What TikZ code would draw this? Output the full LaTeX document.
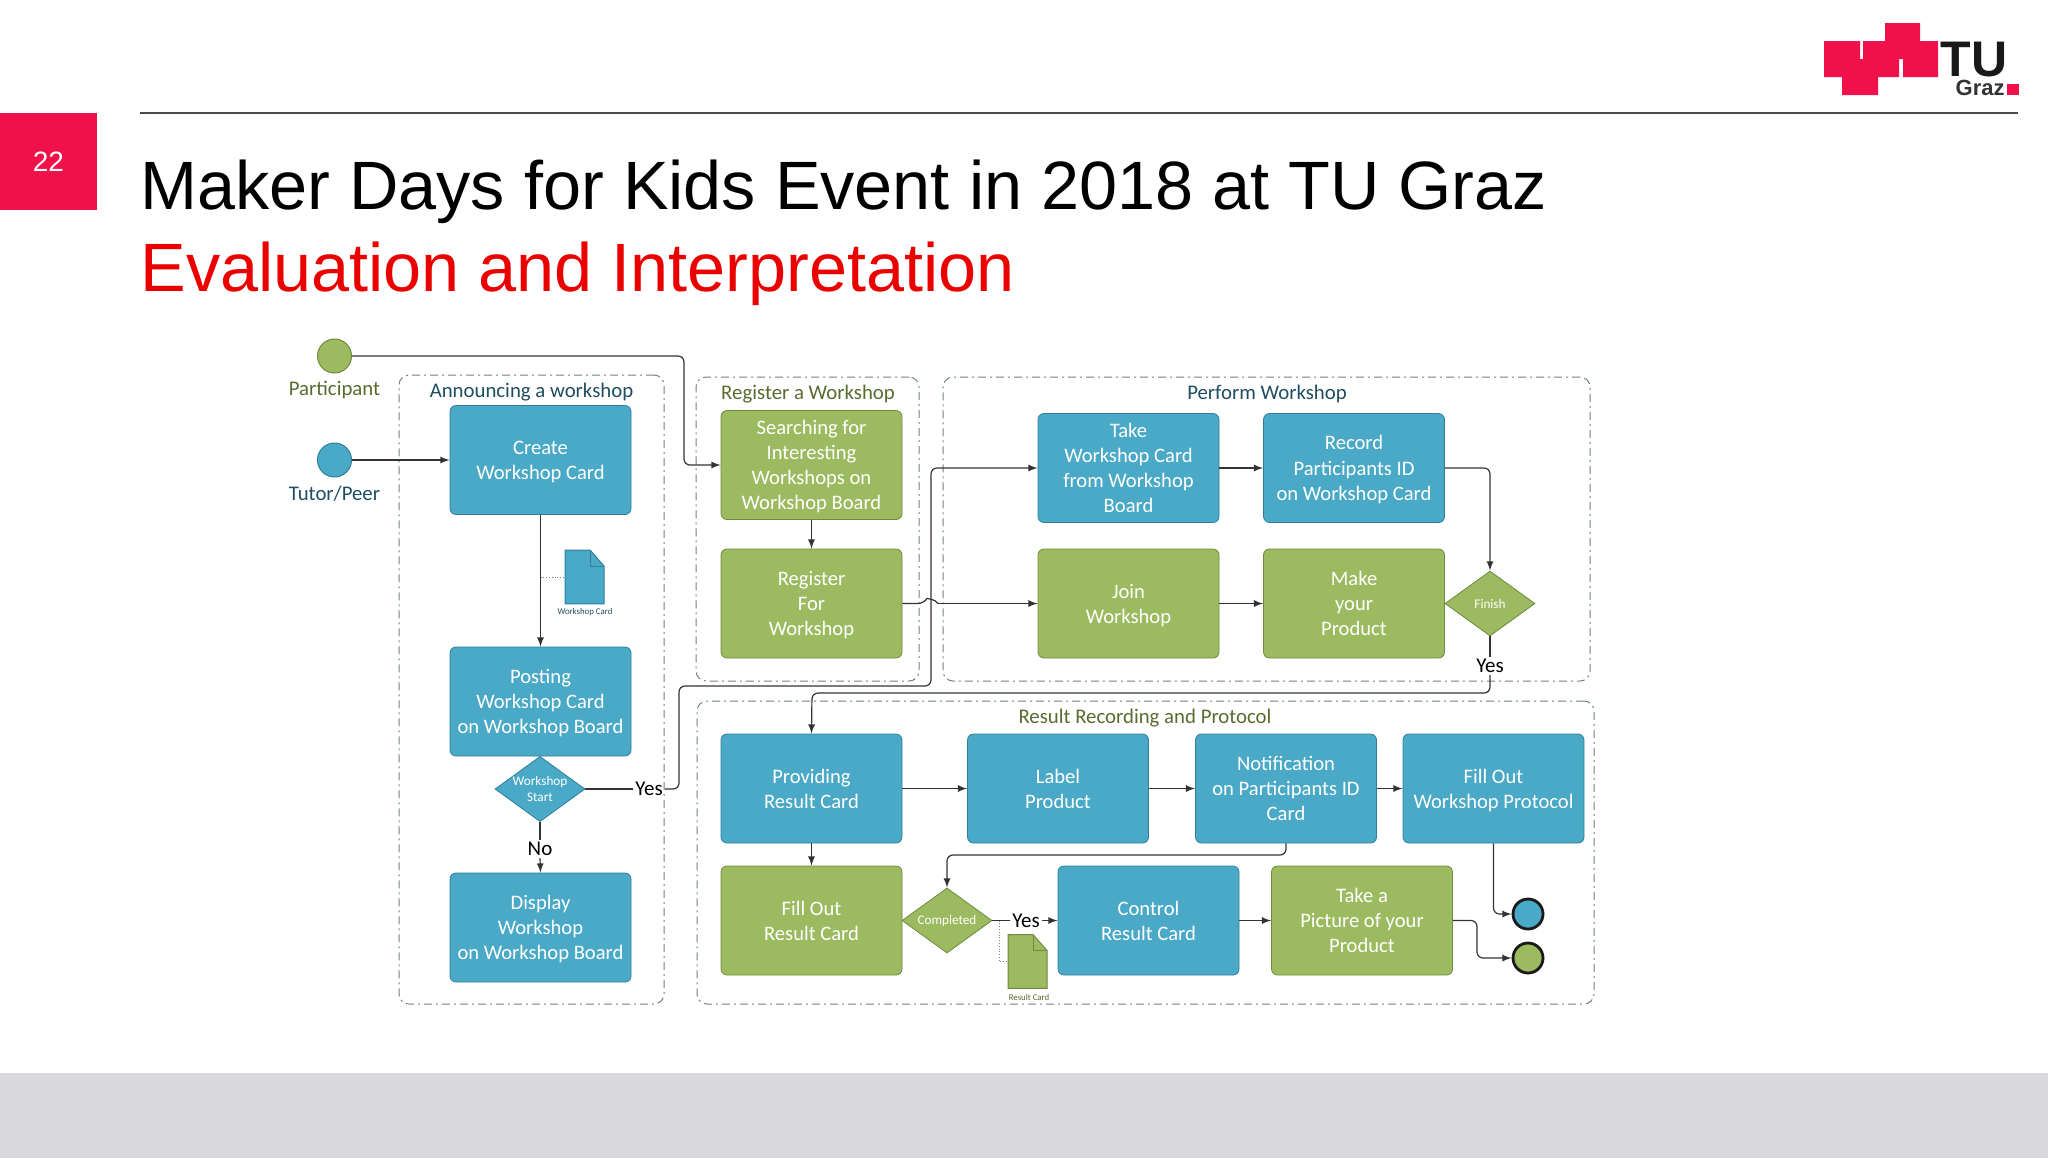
\documentclass[tikz,border=0pt]{standalone}
\usepackage{fontspec}
\setmainfont{Carlito}
\newfontfamily\slidefont{Liberation Sans}
\definecolor{TugBlue}{HTML}{49A9C6}
\definecolor{TugGreen}{HTML}{9CBA5F}
\definecolor{TugBlueDark}{HTML}{2F7F9C}
\definecolor{TugGreenDark}{HTML}{6F8A3E}
\definecolor{TugTeal}{HTML}{1F4E60}
\definecolor{TugOlive}{HTML}{5A6B2E}
\definecolor{TugRed}{HTML}{F0104A}
\definecolor{FootGray}{HTML}{D9D8DC}
\definecolor{StageLine}{HTML}{6F8285}
\usetikzlibrary{shapes.geometric,arrows,calc,backgrounds}
\tikzset{>=latex}
\tikzset{
    taskbox/.style={draw,rounded corners=3pt,minimum width=90.5pt,minimum height=54.5pt,inner sep=0pt,align=center,text=white,text depth=0pt,font=\fontsize{10.3}{12.6}\selectfont},
    bluebox/.style={taskbox,fill=TugBlue,draw=TugBlueDark},
    greenbox/.style={taskbox,fill=TugGreen,draw=TugGreenDark},
    gate/.style={diamond,draw,aspect=1.38,minimum width=45pt,minimum height=32.5pt,inner sep=0pt,align=center,text=white,font=\fontsize{6.6}{8.2}\selectfont},
    stage/.style={draw=StageLine,rounded corners=5pt,line width=.5pt,dash pattern=on 4pt off 2pt on 1pt off 2pt,inner sep=0pt},
    stagetitle/.style={font=\fontsize{10.4}{12}\selectfont},
    flow/.style={->,draw=black!80,line width=.6pt,rounded corners=3pt},
    plainflow/.style={draw=black!80,line width=.6pt,rounded corners=3pt},
    choice/.style={inner sep=1pt,font=\fontsize{10.5}{12}\selectfont},
    actor/.style={circle,draw=TugGreenDark,line width=.5pt,minimum size=17pt,inner sep=0pt},
    finish/.style={circle,draw=black!90,line width=1.4pt,minimum size=15pt,inner sep=0pt},
    docbox/.style={minimum width=19.5pt,minimum height=26.5pt,inner sep=0pt},
    doclabel/.style={inner sep=0pt,font=\fontsize{4.4}{5}\selectfont}
}
\begin{document}
\begin{tikzpicture}[x=.5pt,y=-.5pt]
        \useasboundingbox (0,0) rectangle (2048,1158);
        % slide frame
        \draw[black!70,line width=.6pt] (140,113) -- (2018,113);
        \node[fill=TugRed,minimum size=48.5pt,inner sep=0pt,text=white,font=\slidefont\fontsize{14}{16}\selectfont] at (48.5,161.5) (pageNo) {22};
        \node[anchor=base west,inner sep=0pt,font=\slidefont\fontsize{34.2}{36}\selectfont] at (140,209) (slideTitle) {Maker Days for Kids Event in 2018 at TU Graz};
        \node[anchor=base west,inner sep=0pt,text=red!92!black,font=\slidefont\fontsize{34.2}{36}\selectfont] at (140,291) (slideSub) {Evaluation and Interpretation};
        % logo
        \fill[TugRed] (1824,41) -- (1860,41) -- (1860,59) -- (1863,59) -- (1863,41) -- (1885,41) -- (1885,23) -- (1920,23) -- (1920,41) -- (1938,41) -- (1938,77) -- (1903,77) -- (1903,59) -- (1899,59) -- (1899,77) -- (1878,77) -- (1878,95) -- (1842,95) -- (1842,77) -- (1824,77) -- cycle;
        \fill[TugRed] (2007,84) rectangle (2019,95);
        \node[anchor=base,inner sep=0pt,font=\slidefont\bfseries\fontsize{25}{26}\selectfont,text=black!90] at (1974,76) (logoTU) {TU};
        \node[anchor=base east,inner sep=0pt,font=\slidefont\bfseries\fontsize{11}{12}\selectfont,text=black!80] at (2005,95) (logoGraz) {Graz};
        % dashed stages
        \begin{scope}[on background layer]
            \fill[white] (0,0) rectangle (2048,1158);
            \fill[FootGray] (0,1073) rectangle (2048,1158);
            \node[stage,minimum width=132.5pt,minimum height=314.5pt] at (531.5,689.5) (announceStage) {};
            \node[stage,minimum width=111.5pt,minimum height=152pt] at (807.5,529) (registerStage) {};
            \node[stage,minimum width=323.5pt,minimum height=152pt] at (1266.5,529) (performStage) {};
            \node[stage,minimum width=448.5pt,minimum height=151.5pt] at (1145.5,852.5) (resultStage) {};
        \end{scope}
        \node[stagetitle,text=TugTeal] at (531.5,392) (announceTitle) {Announcing a workshop};
        \node[stagetitle,text=TugOlive] at (808,394.5) (registerTitle) {Register a Workshop};
        \node[stagetitle,text=TugTeal] at (1267,394) (performTitle) {Perform Workshop};
        \node[stagetitle,text=TugOlive] at (1145,718.5) (resultTitle) {Result Recording and Protocol};
        % actors
        \node[actor,fill=TugGreen] at (334.5,356) (participant) {};
        \node[actor,fill=TugBlue,draw=TugBlueDark] at (334.5,460) (tutor) {};
        \node[stagetitle,text=TugOlive] at (334.5,390) (participantLabel) {Participant};
        \node[stagetitle,text=TugTeal] at (334.5,493.5) (tutorLabel) {Tutor/Peer};
        % announcing
        \node[bluebox] at (540.5,460) (createCard) {Create\\Workshop Card};
        \node[bluebox] at (540.5,701.5) (postCard) {Posting\\Workshop Card\\on Workshop Board};
        \node[gate,fill=TugBlue,draw=TugBlueDark] at (540,789) (startGate) {Workshop\\Start};
        \node[bluebox] at (540.5,927.5) (displayBoard) {Display\\Workshop\\on Workshop Board};
        \node[choice] at (649,789) (startYes) {Yes};
        \node[choice] at (540,849) (startNo) {No};
        \node[docbox] at (585,577) (workCard) {};
        \node[doclabel,text=TugTeal] at (585,612) (workCardLabel) {Workshop Card};
        % register
        \node[greenbox] at (811.5,465) (searchBoard) {Searching for\\Interesting\\Workshops on\\Workshop Board};
        \node[greenbox] at (811.5,603.5) (registerFor) {Register\\For\\Workshop};
        % perform
        \node[bluebox] at (1128.5,468) (takeCard) {Take\\Workshop Card\\from Workshop\\Board};
        \node[bluebox] at (1354,468) (recordID) {Record\\Participants ID\\on Workshop Card};
        \node[greenbox] at (1128.5,603.5) (joinWork) {Join\\Workshop};
        \node[greenbox] at (1354,603.5) (makeProduct) {Make\\your\\Product};
        \node[gate,fill=TugGreen,draw=TugGreenDark] at (1490,603.5) (finishGate) {Finish};
        \node[choice] at (1490,666) (finishYes) {Yes};
        % result
        \node[bluebox] at (811.5,788.5) (provideCard) {Providing\\Result Card};
        \node[bluebox] at (1058,788.5) (labelProduct) {Label\\Product};
        \node[bluebox] at (1286,788.5) (notifyID) {Notification\\on Participants ID\\Card};
        \node[bluebox] at (1493.5,788.5) (fillProtocol) {Fill Out\\Workshop Protocol};
        \node[greenbox] at (811.5,920.5) (fillCard) {Fill Out\\Result Card};
        \node[gate,fill=TugGreen,draw=TugGreenDark] at (947,920.5) (doneGate) {Completed};
        \node[choice] at (1026,920.5) (doneYes) {Yes};
        \node[bluebox] at (1148.5,920.5) (controlCard) {Control\\Result Card};
        \node[greenbox] at (1362,920.5) (takePicture) {Take a\\Picture of your\\Product};
        \node[docbox] at (1028,961.5) (resultCard) {};
        \node[doclabel,text=TugOlive] at (1029,997) (resultCardLabel) {Result Card};
        \node[finish,fill=TugBlue] at (1528,914) (endBlue) {};
        \node[finish,fill=TugGreen] at (1528,958) (endGreen) {};
        % document icons
        \foreach \docname/\doccol/\docline in {workCard/TugBlue/TugBlueDark,resultCard/TugGreen/TugGreenDark} {
            \draw[fill=\doccol,draw=\docline,line width=.5pt] (\docname.south west) -- (\docname.north west) -- ++(25,0) -- ++(14,16) |- cycle;
            \draw[draw=\docline,line width=.5pt] ($(\docname.north west)+(25,0)$) -- ++(0,16) -- ++(14,0);
        }
        % bends
        \coordinate (bendSearch) at (684,410);
        \coordinate (bendStartA) at (679,686);
        \coordinate (bendStartB) at (931,577);
        \coordinate (bendProvide) at (812,693);
        \coordinate (bendDone) at (1116,855);
        \coordinate (bendProtocol) at (1493.5,880);
        \coordinate (bendPicture) at (1477,940);
        \coordinate (hopLeft) at (924,603.5);
        \coordinate (hopRight) at (938,603.5);
        \coordinate (dotWork) at (540.5,577);
        \coordinate (dotDone) at (999,920.5);
        \coordinate (dotResult) at (999,961.5);
        % connectors
        \draw[flow] (participant.east) -| (bendSearch) |- (searchBoard.west);
        \draw[flow] (tutor.east) -- (createCard.west);
        \draw[flow] (createCard.south) -- (postCard.north);
        \draw[black!50,densely dotted,line width=.4pt] (dotWork) -- (workCard.west);
        \draw[plainflow] (startGate.east) -- (startYes.west);
        \draw[plainflow] (startGate.south) -- (startNo.north);
        \draw[flow] (startNo.south) -- (displayBoard.north);
        \draw[flow] (startYes.east) -| (bendStartA) -| (bendStartB) |- (takeCard.west);
        \draw[flow] (searchBoard.south) -- (registerFor.north);
        \draw[plainflow] (registerFor.east) -- (hopLeft) to[out=60,in=120] (hopRight);
        \draw[flow] (hopRight) -- (joinWork.west);
        \draw[flow] (takeCard.east) -- (recordID.west);
        \draw[flow] (joinWork.east) -- (makeProduct.west);
        \draw[flow] (recordID.east) -| (finishGate.north);
        \draw[plainflow] (finishGate.south) -- (finishYes.north);
        \draw[flow] (finishYes.south) |- (bendProvide) -- (provideCard.north);
        \draw[flow] (provideCard.east) -- (labelProduct.west);
        \draw[flow] (labelProduct.east) -- (notifyID.west);
        \draw[flow] (notifyID.east) -- (fillProtocol.west);
        \draw[flow] (provideCard.south) -- (fillCard.north);
        \draw[flow] (notifyID.south) |- (bendDone) -| (doneGate.north);
        \draw[plainflow] (doneGate.east) -- (doneYes.west);
        \draw[flow] (doneYes.east) -- (controlCard.west);
        \draw[black!50,densely dotted,line width=.4pt] (dotDone) -- (dotResult) -- (resultCard.west);
        \draw[flow] (controlCard.east) -- (takePicture.west);
        \draw[flow] (fillProtocol.south) -- (bendProtocol) |- (endBlue.west);
        \draw[flow] (takePicture.east) -| (bendPicture) |- (endGreen.west);
    \end{tikzpicture}
\end{document}
